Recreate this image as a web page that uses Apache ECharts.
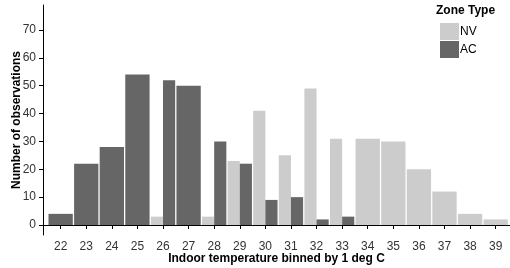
<!DOCTYPE html>
<html>
<head>
<meta charset="utf-8">
<script src="https://cdn.jsdelivr.net/npm/echarts@6/dist/echarts.min.js"></script>
<style>
  html, body { margin: 0; padding: 0; background: #fff; }
  #chart { width: 510px; height: 268px; }
</style>
</head>
<body>
<div id="chart"></div>
<script>
// indoor temperature bins (deg C)
var temps = [22, 23, 24, 25, 26, 27, 28, 29, 30, 31, 32, 33, 34, 35, 36, 37, 38, 39];
// counts per bin, null where the zone type has no observations
var nvCounts = [null, null, null, null, 3, null, 3, 23, 41, 25, 49, 31, 31, 30, 20, 12, 4, 2];
var acCounts = [4, 22, 28, 54, 52, 50, 30, 22, 9, 10, 2, 3, null, null, null, null, null, null];
var yTicks = [0, 10, 20, 30, 40, 50, 60, 70];

var zoneNames = ['NV', 'AC'];
var zoneColors = ['#cccccc', '#666666'];

var myChart = echarts.init(document.getElementById('chart'));

var BAR_W = 0.95;

function makeData(own, other, side) {
    var out = [];
    for (var i = 0; i < temps.length; i++) {
        if (own[i] == null) continue;
        var dodged = other[i] != null;
        out.push([temps[i], own[i], dodged ? side : 0]);
    }
    return out;
}

function renderBar(params, api) {
    var x = api.value(0), v = api.value(1), side = api.value(2);
    var w = side === 0 ? BAR_W : BAR_W / 2;
    var cx = x + side * BAR_W / 4;
    var p0 = api.coord([cx - w / 2, v]);
    var p1 = api.coord([cx + w / 2, 0]);
    return {
        type: 'rect',
        shape: { x: p0[0], y: p0[1], width: p1[0] - p0[0], height: p1[1] - p0[1] },
        style: { fill: api.visual('color') }
    };
}

var option = {
    animation: false,
    grid: { left: 43, right: 0, top: 5, bottom: 33, outerBoundsMode: 'none', containLabel: false },
    legend: {
        orient: 'vertical',
        left: 435,
        top: 18,
        itemWidth: 19,
        itemHeight: 17,
        itemGap: 1,
        icon: 'rect',
        textStyle: { fontFamily: 'Liberation Sans', fontSize: 12, color: '#000', padding: [0, 0, 0, -4] },
        data: zoneNames
    },
    graphic: [{
        type: 'text',
        left: 436,
        top: 5,
        style: { text: 'Zone Type', font: 'bold 12px "Liberation Sans"', fill: '#000' }
    }],
    xAxis: {
        type: 'value',
        min: 21.31,
        max: 39.56,
        name: 'Indoor temperature binned by 1 deg C',
        nameLocation: 'middle',
        nameGap: 18,
        nameMoveOverlap: false,
        nameTextStyle: { fontFamily: 'Liberation Sans', fontSize: 12, fontWeight: 'bold', color: '#000' },
        splitLine: { show: false },
        axisLine: { lineStyle: { color: '#000', width: 1 } },
        axisTick: { length: 4, customValues: temps, lineStyle: { color: '#000' } },
        axisLabel: { customValues: temps, margin: 6, fontFamily: 'Liberation Sans', fontSize: 12, color: '#333' }
    },
    yAxis: {
        type: 'value',
        min: -3.59,
        max: 78.97,
        name: 'Number of observations',
        nameLocation: 'middle',
        nameGap: 20,
        nameMoveOverlap: false,
        nameTextStyle: { fontFamily: 'Liberation Sans', fontSize: 12, fontWeight: 'bold', color: '#000' },
        splitLine: { show: false },
        axisLine: { show: true, lineStyle: { color: '#000', width: 1 } },
        axisTick: { show: true, length: 4, customValues: yTicks, lineStyle: { color: '#000' } },
        axisLabel: { customValues: yTicks, margin: 7, fontFamily: 'Liberation Sans', fontSize: 12, color: '#333' }
    },
    series: [
        {
            name: 'NV',
            type: 'custom',
            renderItem: renderBar,
            itemStyle: { color: zoneColors[0] },
            encode: { x: 0, y: 1 },
            data: makeData(nvCounts, acCounts, -1)
        },
        {
            name: 'AC',
            type: 'custom',
            renderItem: renderBar,
            itemStyle: { color: zoneColors[1] },
            encode: { x: 0, y: 1 },
            data: makeData(acCounts, nvCounts, 1)
        }
    ]
};

myChart.setOption(option);
</script>
</body>
</html>
